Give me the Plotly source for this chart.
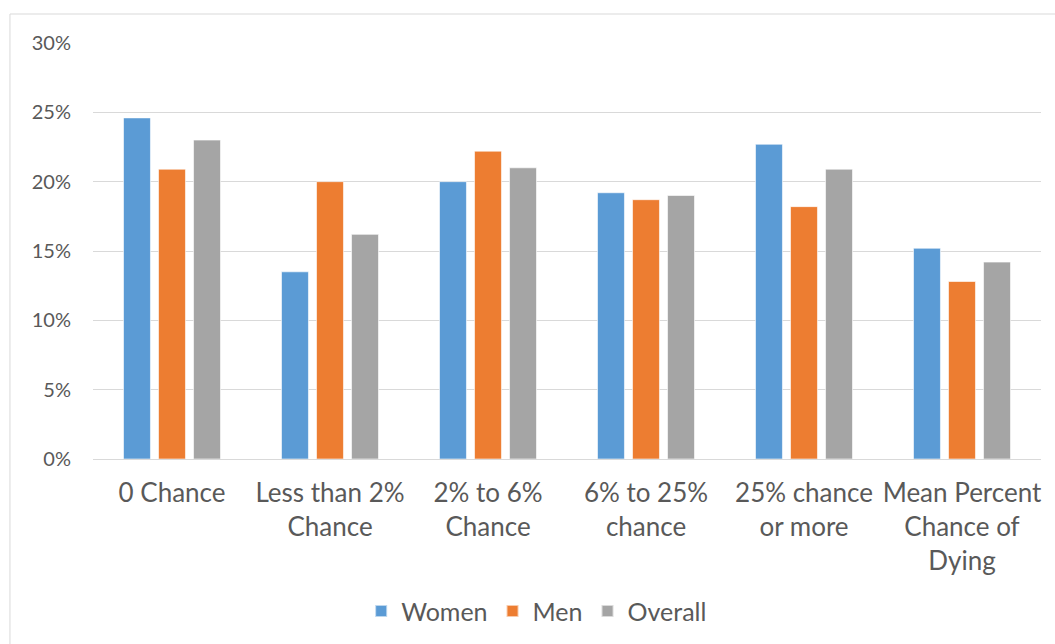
import plotly.graph_objects as go

categories = ["0 Chance", "Less than 2%<br>Chance", "2% to 6%<br>Chance",
              "6% to 25%<br>chance", "25% chance<br>or more", "Mean Percent<br>Chance of<br>Dying"]
women = [0.246, 0.135, 0.200, 0.192, 0.227, 0.152]
men = [0.209, 0.200, 0.222, 0.187, 0.182, 0.128]
overall = [0.230, 0.162, 0.210, 0.190, 0.209, 0.142]
y_ticks = [0, 0.05, 0.10, 0.15, 0.20, 0.25, 0.30]

series = [("Women", women, "#5b9bd5"), ("Men", men, "#ed7d31"), ("Overall", overall, "#a5a5a5")]

fig = go.Figure()
for name, vals, col in series:
    fig.add_trace(go.Bar(x=categories, y=vals, name=name,
                         marker=dict(color=col, line=dict(color="rgba(255,255,255,0.6)", width=1))))

font_fam = "Lato, Open Sans, sans-serif"
fig.update_layout(
    width=1055, height=644,
    margin=dict(l=93, r=14, t=43, b=185, autoexpand=False),
    paper_bgcolor="white", plot_bgcolor="white",
    barmode="group", bargap=0.335, bargroupgap=0.23,
    font=dict(family=font_fam, size=20, color="#595959"),
    showlegend=True,
    legend=dict(orientation="h", x=0.468, xanchor="center", y=-0.366, yanchor="middle",
                font=dict(size=25, color="#595959"), itemsizing="constant",
                traceorder="normal"),
    xaxis=dict(showgrid=False, showline=True, linecolor="#d9d9d9", linewidth=1, automargin=False,
               ticks="", tickfont=dict(size=26, color="#595959"), ticklabelstandoff=11),
    yaxis=dict(range=[0, 0.30], tickvals=y_ticks, tickformat=".0%", showgrid=True, automargin=False,
               gridcolor="#d9d9d9", gridwidth=1, zeroline=False, showline=False,
               tickfont=dict(size=20, color="#595959"), ticklabelstandoff=21),
    shapes=[dict(type="rect", xref="paper", yref="paper",
                 x0=-0.0876, x1=1.2, y0=-0.6, y1=1.0697,
                 line=dict(color="#d9d9d9", width=1), fillcolor="rgba(0,0,0,0)", layer="below")],
)

fig.write_html("out.html")
